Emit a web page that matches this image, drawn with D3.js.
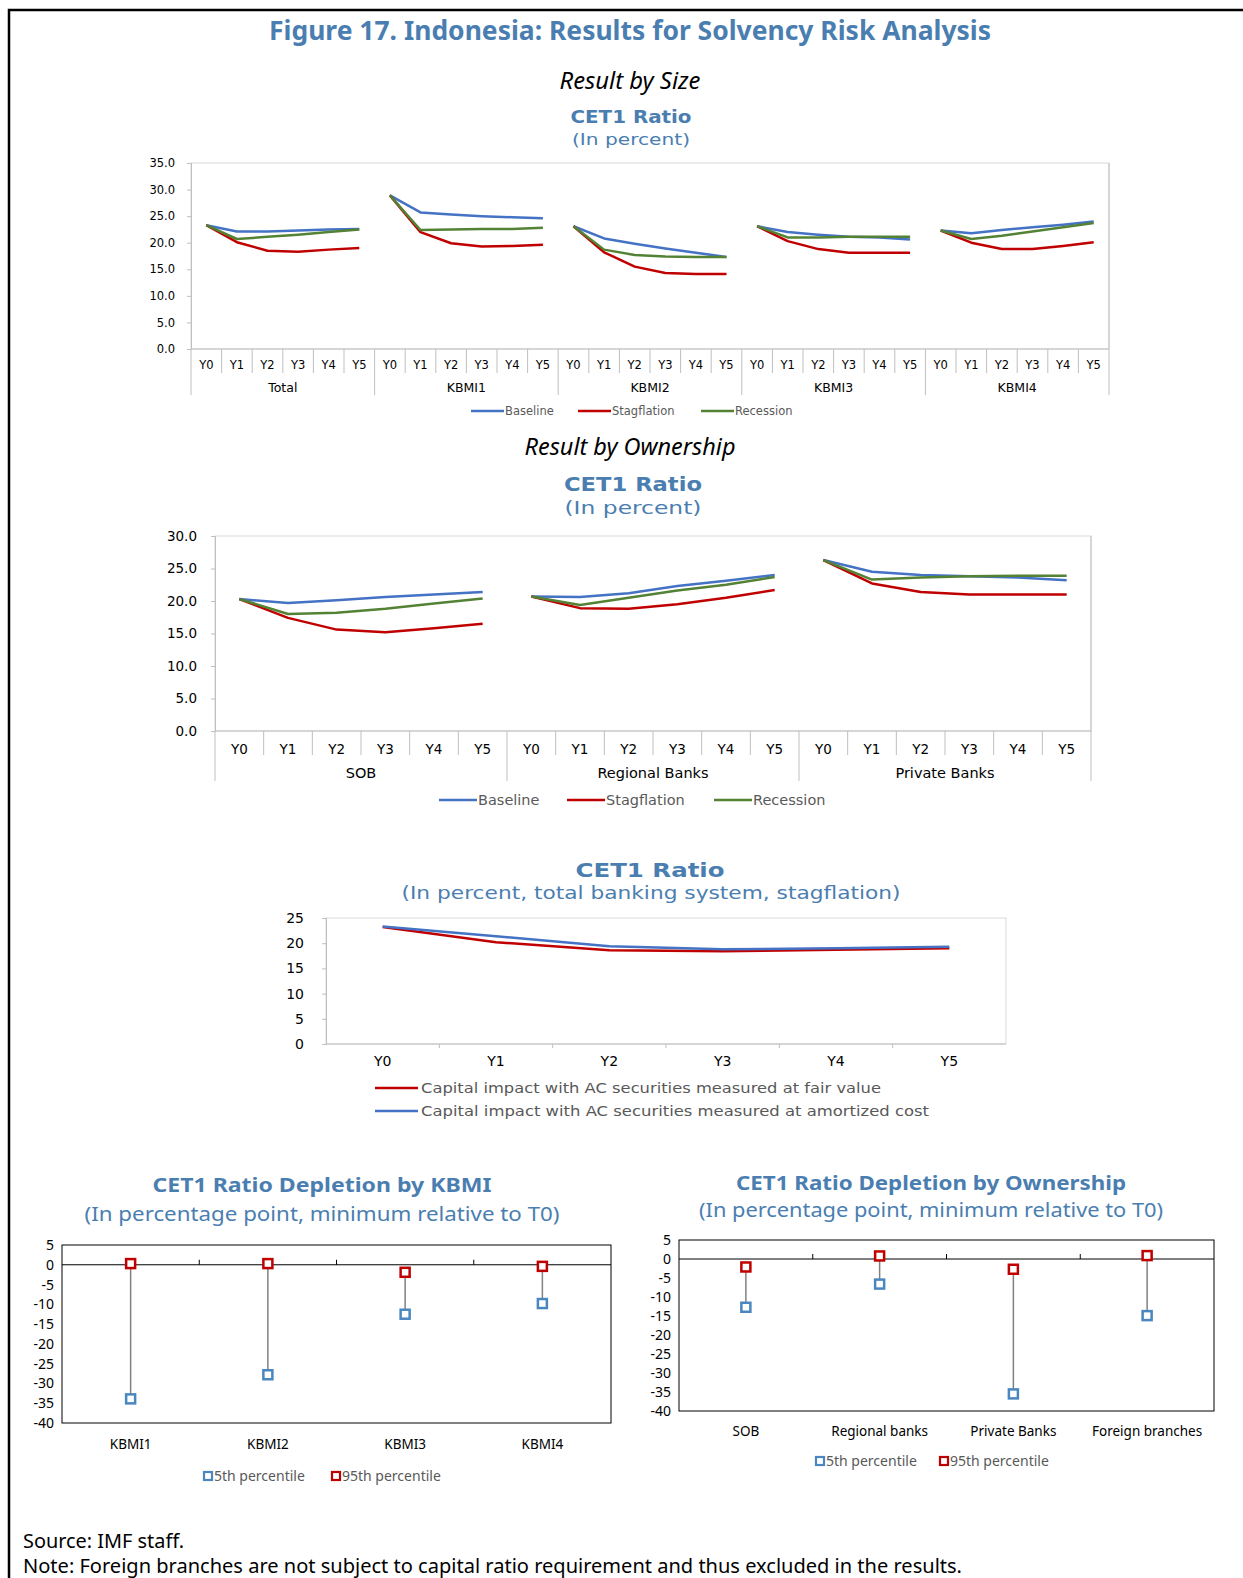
<!DOCTYPE html>
<html lang="en">
<head>
<meta charset="utf-8">
<title>Figure 17</title>
<script src="https://d3js.org/d3.v7.min.js"></script>
<style>
  body { margin: 0; background: #fff; }
</style>
</head>
<body>
<div id="fig"></div>
<script>
// ---- data ----
const years = ["Y0", "Y1", "Y2", "Y3", "Y4", "Y5"];

const sizeGroups = ["Total", "KBMI1", "KBMI2", "KBMI3", "KBMI4"];
const sizeBaseline = [
  [23.3, 22.1, 22.1, 22.3, 22.5, 22.6],
  [28.9, 25.7, 25.3, 25.0, 24.8, 24.6],
  [23.1, 20.8, 19.8, 18.9, 18.1, 17.3],
  [23.1, 22.0, 21.5, 21.1, 21.0, 20.6],
  [22.3, 21.8, 22.4, 22.9, 23.4, 24.0]];
const sizeStagflation = [
  [23.3, 20.1, 18.5, 18.3, 18.7, 19.0],
  [28.9, 22.0, 19.9, 19.3, 19.4, 19.6],
  [23.1, 18.2, 15.5, 14.3, 14.1, 14.1],
  [23.1, 20.3, 18.8, 18.1, 18.1, 18.1],
  [22.3, 20.0, 18.8, 18.8, 19.4, 20.1]];
const sizeRecession = [
  [23.3, 20.7, 21.1, 21.5, 22.0, 22.5],
  [28.9, 22.4, 22.5, 22.6, 22.6, 22.8],
  [23.1, 18.7, 17.7, 17.4, 17.3, 17.3],
  [23.1, 21.0, 21.0, 21.1, 21.1, 21.1],
  [22.3, 20.7, 21.3, 22.1, 22.9, 23.7]];
const sizeTicks = [0, 5, 10, 15, 20, 25, 30, 35];

const ownGroups = ["SOB", "Regional Banks", "Private Banks"];
const ownBaseline = [
  [20.3, 19.7, 20.1, 20.6, 21.0, 21.4],
  [20.7, 20.6, 21.2, 22.3, 23.1, 24.0],
  [26.3, 24.5, 24.0, 23.8, 23.6, 23.2]];
const ownStagflation = [
  [20.3, 17.4, 15.6, 15.2, 15.8, 16.5],
  [20.7, 18.9, 18.8, 19.5, 20.5, 21.7],
  [26.3, 22.7, 21.4, 21.0, 21.0, 21.0]];
const ownRecession = [
  [20.3, 18.0, 18.2, 18.8, 19.6, 20.4],
  [20.7, 19.4, 20.5, 21.6, 22.5, 23.7],
  [26.3, 23.3, 23.6, 23.8, 23.9, 23.9]];
const ownTicks = [0, 5, 10, 15, 20, 25, 30];

const fairValue = [23.2, 20.2, 18.6, 18.4, 18.7, 19.0];
const amortizedCost = [23.3, 21.4, 19.4, 18.8, 19.0, 19.3];
const tbsTicks = [0, 5, 10, 15, 20, 25];

const kbmiCats = ["KBMI1", "KBMI2", "KBMI3", "KBMI4"];
const kbmiP5 = [-33.9, -27.8, -12.5, -9.8];
const kbmiP95 = [0.3, 0.3, -1.9, -0.4];

const ownershipCats = ["SOB", "Regional banks", "Private Banks", "Foreign branches"];
const ownershipP5 = [-12.7, -6.6, -35.5, -14.9];
const ownershipP95 = [-2.1, 0.8, -2.7, 0.9];
const depletionTicks = [5, 0, -5, -10, -15, -20, -25, -30, -35, -40];

// ---- styles ----
const titleBlue = "#4a7eb0";
const cBase = "#4472c4", cStag = "#c00000", cRec = "#548235";
const cP5 = "#4a86bf", cP95 = "#c00000";
const wide = "DejaVu Sans";

const svg = d3.select("#fig").append("svg")
  .attr("width", 1243).attr("height", 1578)
  .attr("font-family", "Noto Sans, sans-serif");

function label(x, y, str, o = {}) {
  const t = svg.append("text")
    .attr("x", x).attr("y", y).attr("dy", "0.35em")
    .attr("text-anchor", o.anchor || "middle")
    .attr("font-size", o.size || 14)
    .attr("font-weight", o.weight || "normal")
    .attr("font-style", o.style || "normal")
    .attr("fill", o.fill || "#000")
    .text(str);
  if (o.family) t.attr("font-family", o.family);
  if (o.len) t.attr("textLength", o.len).attr("lengthAdjust", "spacingAndGlyphs");
  return t;
}

// frame
svg.append("path").attr("d", "M9,1578V10H1243")
  .attr("fill", "none").attr("stroke", "#000").attr("stroke-width", 2.5);

label(630, 31, "Figure 17. Indonesia: Results for Solvency Risk Analysis",
  { size: 26, weight: "bold", fill: titleBlue, len: 722 });

// ---- grouped line chart ----
function groupedChart(o) {
  const g = svg.append("g");
  const keys = [];
  o.groups.forEach(gr => years.forEach(yr => keys.push(gr + "|" + yr)));
  const x = d3.scaleBand().domain(keys).range([o.left, o.right]);
  const y = d3.scaleLinear().domain([0, d3.max(o.ticks)]).range([o.bottom, o.top]);
  const bw = x.bandwidth();

  g.append("rect")
    .attr("x", o.left).attr("y", o.top)
    .attr("width", o.right - o.left).attr("height", o.bottom - o.top)
    .attr("fill", "none").attr("stroke", "#d9d9d9");

  g.append("g")
    .attr("transform", `translate(${o.left},0)`)
    .call(d3.axisLeft(y).tickValues(o.ticks).tickFormat(d3.format(".1f")).tickSize(4).tickPadding(o.pad))
    .attr("font-family", wide).attr("font-size", o.fs)
    .call(a => a.select(".domain").attr("stroke", "#bfbfbf"))
    .call(a => a.selectAll(".tick line").attr("stroke", "#bfbfbf"))
    .call(a => a.selectAll(".tick text").attr("fill", "#000"));

  // category separators
  keys.forEach((k, i) => {
    g.append("line")
      .attr("x1", x(k)).attr("x2", x(k))
      .attr("y1", o.bottom).attr("y2", i % 6 === 0 ? o.groupEnd : o.minorEnd)
      .attr("stroke", "#bfbfbf");
  });
  g.append("line").attr("x1", o.right).attr("x2", o.right)
    .attr("y1", o.top).attr("y2", o.groupEnd).attr("stroke", "#bfbfbf");
  g.append("line").attr("x1", o.left).attr("x2", o.right)
    .attr("y1", o.bottom).attr("y2", o.bottom).attr("stroke", "#bfbfbf");

  keys.forEach(k => {
    label(x(k) + bw / 2, o.labelY, k.split("|")[1], { size: o.fs, family: wide });
  });
  o.groups.forEach(gr => {
    label(x(gr + "|Y0") + 3 * x.step(), o.groupY, gr, { size: o.groupFs, family: wide });
  });

  const line = gr => d3.line()
    .x((d, i) => x(gr + "|" + years[i]) + bw / 2)
    .y(d => y(d));
  o.series.forEach(s => {
    o.groups.forEach((gr, gi) => {
      g.append("path")
        .attr("d", line(gr)(s.values[gi]))
        .attr("fill", "none").attr("stroke", s.color)
        .attr("stroke-width", 2.5).attr("stroke-linejoin", "round");
    });
  });

  o.series.forEach((s, i) => {
    const lx = o.legendX[i];
    g.append("line").attr("x1", lx).attr("x2", lx + o.legendLen)
      .attr("y1", o.legendY).attr("y2", o.legendY)
      .attr("stroke", s.color).attr("stroke-width", 2.5);
    label(lx + o.legendLen + 1, o.legendY, s.name,
      { size: o.legendFs, family: wide, anchor: "start", fill: "#595959" });
  });
}

// Result by Size
label(630, 81, "Result by Size", { size: 23, style: "italic", len: 141 });
label(631, 117, "CET1 Ratio", { size: 17, weight: "bold", fill: titleBlue, family: wide, len: 121 });
label(631, 139, "(In percent)", { size: 16, fill: titleBlue, family: wide, len: 118 });

groupedChart({
  groups: sizeGroups,
  series: [
    { name: "Baseline", values: sizeBaseline, color: cBase },
    { name: "Stagflation", values: sizeStagflation, color: cStag },
    { name: "Recession", values: sizeRecession, color: cRec }],
  ticks: sizeTicks,
  left: 191, right: 1109, top: 163, bottom: 349,
  fs: 11.5, groupFs: 12.5, pad: 12,
  labelY: 365, groupY: 388, minorEnd: 373, groupEnd: 395,
  legendY: 411, legendX: [471, 578, 701], legendLen: 33, legendFs: 11.5
});

// Result by Ownership
label(630, 447, "Result by Ownership", { size: 23, style: "italic", len: 211 });
label(633, 484, "CET1 Ratio", { size: 19, weight: "bold", fill: titleBlue, family: wide, len: 138 });
label(633, 508, "(In percent)", { size: 18, fill: titleBlue, family: wide, len: 137 });

groupedChart({
  groups: ownGroups,
  series: [
    { name: "Baseline", values: ownBaseline, color: cBase },
    { name: "Stagflation", values: ownStagflation, color: cStag },
    { name: "Recession", values: ownRecession, color: cRec }],
  ticks: ownTicks,
  left: 215, right: 1091, top: 536, bottom: 731,
  fs: 13.5, groupFs: 14.5, pad: 14,
  labelY: 749, groupY: 773, minorEnd: 755, groupEnd: 781,
  legendY: 800, legendX: [439, 567, 714], legendLen: 38, legendFs: 14.5
});

// ---- total banking system chart ----
(function () {
  const left = 326, right = 1006, top = 918, bottom = 1044;
  const g = svg.append("g");
  const x = d3.scaleBand().domain(years).range([left, right]);
  const y = d3.scaleLinear().domain([0, 25]).range([bottom, top]);
  const bw = x.bandwidth();

  label(650, 870, "CET1 Ratio", { size: 20, weight: "bold", fill: titleBlue, family: wide, len: 149 });
  label(651, 893, "(In percent, total banking system, stagflation)",
    { size: 17, fill: titleBlue, family: wide, len: 499 });

  g.append("rect").attr("x", left).attr("y", top)
    .attr("width", right - left).attr("height", bottom - top)
    .attr("fill", "none").attr("stroke", "#d9d9d9");

  g.append("g").attr("transform", `translate(${left},0)`)
    .call(d3.axisLeft(y).tickValues(tbsTicks).tickSize(4).tickPadding(18))
    .attr("font-family", wide).attr("font-size", 14)
    .call(a => a.select(".domain").attr("stroke", "#bfbfbf"))
    .call(a => a.selectAll(".tick line").attr("stroke", "#bfbfbf"))
    .call(a => a.selectAll(".tick text").attr("fill", "#000"));

  g.append("line").attr("x1", left).attr("x2", right)
    .attr("y1", bottom).attr("y2", bottom).attr("stroke", "#bfbfbf");
  years.forEach((yr, i) => {
    if (i > 0) {
      g.append("line").attr("x1", x(yr)).attr("x2", x(yr))
        .attr("y1", bottom).attr("y2", bottom + 4).attr("stroke", "#bfbfbf");
    }
    label(x(yr) + bw / 2, 1061, yr, { size: 14, family: wide });
  });

  const line = d3.line().x((d, i) => x(years[i]) + bw / 2).y(d => y(d));
  [[fairValue, cStag], [amortizedCost, cBase]].forEach(([vals, col]) => {
    g.append("path").attr("d", line(vals))
      .attr("fill", "none").attr("stroke", col).attr("stroke-width", 2.5)
      .attr("stroke-linejoin", "round");
  });

  const legend = [
    ["Capital impact with AC securities measured at fair value", cStag, 1088, 460],
    ["Capital impact with AC securities measured at amortized cost", cBase, 1111, 508]];
  legend.forEach(([txt, col, ly, len]) => {
    g.append("line").attr("x1", 375).attr("x2", 418).attr("y1", ly).attr("y2", ly)
      .attr("stroke", col).attr("stroke-width", 2.5);
    label(421, ly, txt, { size: 14, family: wide, anchor: "start", fill: "#595959", len: len });
  });
})();

// ---- depletion dot charts ----
function depletionChart(o) {
  const g = svg.append("g");
  const x = d3.scaleBand().domain(o.cats).range([o.left, o.right]);
  const y = d3.scaleLinear().domain([-40, 5]).range([o.bottom, o.top]);
  const bw = x.bandwidth();

  label(o.cx, o.titleY, o.title, { size: 20, weight: "bold", fill: titleBlue, len: o.titleLen });
  label(o.cx, o.subY, "(In percentage point, minimum relative to T0)",
    { size: 20, fill: titleBlue, len: o.subLen });

  g.append("rect").attr("x", o.left).attr("y", o.top)
    .attr("width", o.right - o.left).attr("height", o.bottom - o.top)
    .attr("fill", "none").attr("stroke", "#000");

  g.append("g").attr("transform", `translate(${o.left},0)`)
    .call(d3.axisLeft(y).tickValues(depletionTicks).tickFormat(d => String(d)).tickSize(0).tickPadding(8))
    .attr("font-family", "Noto Sans").attr("font-size", 14)
    .call(a => a.select(".domain").remove())
    .call(a => a.selectAll(".tick text").attr("fill", "#000"));

  g.append("line").attr("x1", o.left).attr("x2", o.right)
    .attr("y1", y(0)).attr("y2", y(0)).attr("stroke", "#000");
  o.cats.forEach((c, i) => {
    if (i > 0) {
      g.append("line").attr("x1", x(c)).attr("x2", x(c))
        .attr("y1", y(0) - 5).attr("y2", y(0)).attr("stroke", "#000");
    }
    label(x(c) + bw / 2, o.labelY, c, { size: 13.5 });
  });

  o.cats.forEach((c, i) => {
    g.append("line")
      .attr("x1", x(c) + bw / 2).attr("x2", x(c) + bw / 2)
      .attr("y1", y(o.p95[i])).attr("y2", y(o.p5[i]))
      .attr("stroke", "#808080").attr("stroke-width", 1.5);
  });
  const marker = (cx, cy, col) => g.append("rect")
    .attr("x", cx - 4.5).attr("y", cy - 4.5).attr("width", 9).attr("height", 9)
    .attr("fill", "#fff").attr("stroke", col).attr("stroke-width", 2.5);
  o.cats.forEach((c, i) => {
    marker(x(c) + bw / 2, y(o.p5[i]), cP5);
    marker(x(c) + bw / 2, y(o.p95[i]), cP95);
  });

  [["5th percentile", cP5], ["95th percentile", cP95]].forEach(([txt, col], i) => {
    const lx = o.legendX[i];
    g.append("rect").attr("x", lx - 4).attr("y", o.legendY - 4)
      .attr("width", 8).attr("height", 8)
      .attr("fill", "#fff").attr("stroke", col).attr("stroke-width", 2.2);
    label(lx + 6, o.legendY, txt, { size: 14, anchor: "start", fill: "#595959" });
  });
}

depletionChart({
  cats: kbmiCats, p5: kbmiP5, p95: kbmiP95,
  title: "CET1 Ratio Depletion by KBMI", cx: 322, titleY: 1185, subY: 1214,
  titleLen: 339, subLen: 475,
  left: 62, right: 611, top: 1245, bottom: 1423, labelY: 1444,
  legendY: 1476, legendX: [208, 336]
});

depletionChart({
  cats: ownershipCats, p5: ownershipP5, p95: ownershipP95,
  title: "CET1 Ratio Depletion by Ownership", cx: 931, titleY: 1183, subY: 1210,
  titleLen: 390, subLen: 464,
  left: 679, right: 1214, top: 1240, bottom: 1411, labelY: 1431,
  legendY: 1461, legendX: [820, 944]
});

label(23, 1541, "Source: IMF staff.", { size: 20, anchor: "start", len: 161 });
label(23, 1566, "Note: Foreign branches are not subject to capital ratio requirement and thus excluded in the results.",
  { size: 19, anchor: "start", len: 939 });
</script>
</body>
</html>
